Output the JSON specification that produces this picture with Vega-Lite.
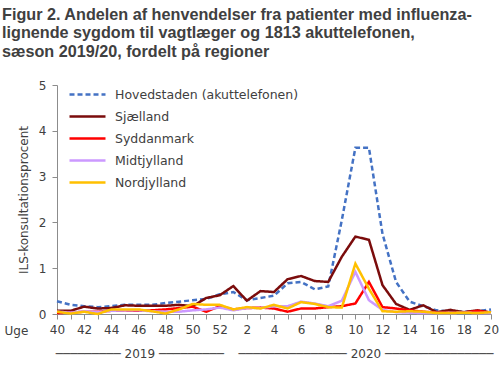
{
  "$schema": "https://vega.github.io/schema/vega-lite/v6.json",
  "width": 434,
  "height": 229,
  "autosize": {"type": "none"},
  "padding": {"left": 57, "top": 85, "right": 9, "bottom": 52},
  "background": "white",
  "config": {
    "view": {"stroke": null},
    "font": "DejaVu Sans",
    "axis": {"grid": false, "domainColor": "#8c8c8c", "tickColor": "#8c8c8c", "labelColor": "#404040", "titleColor": "#404040", "labelFont": "DejaVu Sans", "labelFontSize": 12, "titleFont": "DejaVu Sans", "titleFontWeight": "normal", "titleFontSize": 12}
  },
  "title": {
    "text": ["Figur 2. Andelen af henvendelser fra patienter med influenza-", "lignende sygdom til vagtlæger og 1813 akuttelefonen,", "sæson 2019/20, fordelt på regioner"],
    "anchor": "start", "frame": "group", "dx": -55, "dy": -9, "offset": 10,
    "font": "Liberation Sans", "fontSize": 16.2, "fontWeight": "bold", "color": "#404040", "lineHeight": 18.5
  },
  "layer": [
    {
      "data": {"values": [
        {"region":"Hovedstaden (akuttelefonen)","i":0,"uge":40,"v":0.28},{"region":"Hovedstaden (akuttelefonen)","i":1,"uge":41,"v":0.2},{"region":"Hovedstaden (akuttelefonen)","i":2,"uge":42,"v":0.17},{"region":"Hovedstaden (akuttelefonen)","i":3,"uge":43,"v":0.15},{"region":"Hovedstaden (akuttelefonen)","i":4,"uge":44,"v":0.17},{"region":"Hovedstaden (akuttelefonen)","i":5,"uge":45,"v":0.2},{"region":"Hovedstaden (akuttelefonen)","i":6,"uge":46,"v":0.2},{"region":"Hovedstaden (akuttelefonen)","i":7,"uge":47,"v":0.2},{"region":"Hovedstaden (akuttelefonen)","i":8,"uge":48,"v":0.24},{"region":"Hovedstaden (akuttelefonen)","i":9,"uge":49,"v":0.27},{"region":"Hovedstaden (akuttelefonen)","i":10,"uge":50,"v":0.3},{"region":"Hovedstaden (akuttelefonen)","i":11,"uge":51,"v":0.33},{"region":"Hovedstaden (akuttelefonen)","i":12,"uge":52,"v":0.43},
        {"region":"Hovedstaden (akuttelefonen)","i":13,"uge":1,"v":0.48},{"region":"Hovedstaden (akuttelefonen)","i":14,"uge":2,"v":0.3},{"region":"Hovedstaden (akuttelefonen)","i":15,"uge":3,"v":0.35},{"region":"Hovedstaden (akuttelefonen)","i":16,"uge":4,"v":0.4},{"region":"Hovedstaden (akuttelefonen)","i":17,"uge":5,"v":0.67},{"region":"Hovedstaden (akuttelefonen)","i":18,"uge":6,"v":0.7},{"region":"Hovedstaden (akuttelefonen)","i":19,"uge":7,"v":0.54},{"region":"Hovedstaden (akuttelefonen)","i":20,"uge":8,"v":0.6},{"region":"Hovedstaden (akuttelefonen)","i":21,"uge":9,"v":2.05},{"region":"Hovedstaden (akuttelefonen)","i":22,"uge":10,"v":3.63},{"region":"Hovedstaden (akuttelefonen)","i":23,"uge":11,"v":3.63},{"region":"Hovedstaden (akuttelefonen)","i":24,"uge":12,"v":1.75},{"region":"Hovedstaden (akuttelefonen)","i":25,"uge":13,"v":0.7},{"region":"Hovedstaden (akuttelefonen)","i":26,"uge":14,"v":0.27},{"region":"Hovedstaden (akuttelefonen)","i":27,"uge":15,"v":0.17},{"region":"Hovedstaden (akuttelefonen)","i":28,"uge":16,"v":0.08},{"region":"Hovedstaden (akuttelefonen)","i":29,"uge":17,"v":0.05},{"region":"Hovedstaden (akuttelefonen)","i":30,"uge":18,"v":0.05},{"region":"Hovedstaden (akuttelefonen)","i":31,"uge":19,"v":0.06},{"region":"Hovedstaden (akuttelefonen)","i":32,"uge":20,"v":0.1},
        {"region":"Sjælland","i":0,"uge":40,"v":0.07},{"region":"Sjælland","i":1,"uge":41,"v":0.07},{"region":"Sjælland","i":2,"uge":42,"v":0.16},{"region":"Sjælland","i":3,"uge":43,"v":0.12},{"region":"Sjælland","i":4,"uge":44,"v":0.13},{"region":"Sjælland","i":5,"uge":45,"v":0.19},{"region":"Sjælland","i":6,"uge":46,"v":0.18},{"region":"Sjælland","i":7,"uge":47,"v":0.18},{"region":"Sjælland","i":8,"uge":48,"v":0.18},{"region":"Sjælland","i":9,"uge":49,"v":0.2},{"region":"Sjælland","i":10,"uge":50,"v":0.17},{"region":"Sjælland","i":11,"uge":51,"v":0.35},{"region":"Sjælland","i":12,"uge":52,"v":0.41},
        {"region":"Sjælland","i":13,"uge":1,"v":0.61},{"region":"Sjælland","i":14,"uge":2,"v":0.29},{"region":"Sjælland","i":15,"uge":3,"v":0.5},{"region":"Sjælland","i":16,"uge":4,"v":0.48},{"region":"Sjælland","i":17,"uge":5,"v":0.76},{"region":"Sjælland","i":18,"uge":6,"v":0.83},{"region":"Sjælland","i":19,"uge":7,"v":0.72},{"region":"Sjælland","i":20,"uge":8,"v":0.7},{"region":"Sjælland","i":21,"uge":9,"v":1.25},{"region":"Sjælland","i":22,"uge":10,"v":1.69},{"region":"Sjælland","i":23,"uge":11,"v":1.62},{"region":"Sjælland","i":24,"uge":12,"v":0.63},{"region":"Sjælland","i":25,"uge":13,"v":0.22},{"region":"Sjælland","i":26,"uge":14,"v":0.09},{"region":"Sjælland","i":27,"uge":15,"v":0.19},{"region":"Sjælland","i":28,"uge":16,"v":0.04},{"region":"Sjælland","i":29,"uge":17,"v":0.09},{"region":"Sjælland","i":30,"uge":18,"v":0.04},{"region":"Sjælland","i":31,"uge":19,"v":0.08},{"region":"Sjælland","i":32,"uge":20,"v":0.03},
        {"region":"Syddanmark","i":0,"uge":40,"v":0.02},{"region":"Syddanmark","i":1,"uge":41,"v":0.03},{"region":"Syddanmark","i":2,"uge":42,"v":0.05},{"region":"Syddanmark","i":3,"uge":43,"v":0.05},{"region":"Syddanmark","i":4,"uge":44,"v":0.07},{"region":"Syddanmark","i":5,"uge":45,"v":0.08},{"region":"Syddanmark","i":6,"uge":46,"v":0.07},{"region":"Syddanmark","i":7,"uge":47,"v":0.08},{"region":"Syddanmark","i":8,"uge":48,"v":0.1},{"region":"Syddanmark","i":9,"uge":49,"v":0.13},{"region":"Syddanmark","i":10,"uge":50,"v":0.16},{"region":"Syddanmark","i":11,"uge":51,"v":0.05},{"region":"Syddanmark","i":12,"uge":52,"v":0.17},
        {"region":"Syddanmark","i":13,"uge":1,"v":0.1},{"region":"Syddanmark","i":14,"uge":2,"v":0.13},{"region":"Syddanmark","i":15,"uge":3,"v":0.14},{"region":"Syddanmark","i":16,"uge":4,"v":0.12},{"region":"Syddanmark","i":17,"uge":5,"v":0.05},{"region":"Syddanmark","i":18,"uge":6,"v":0.12},{"region":"Syddanmark","i":19,"uge":7,"v":0.12},{"region":"Syddanmark","i":20,"uge":8,"v":0.15},{"region":"Syddanmark","i":21,"uge":9,"v":0.17},{"region":"Syddanmark","i":22,"uge":10,"v":0.23},{"region":"Syddanmark","i":23,"uge":11,"v":0.7},{"region":"Syddanmark","i":24,"uge":12,"v":0.15},{"region":"Syddanmark","i":25,"uge":13,"v":0.12},{"region":"Syddanmark","i":26,"uge":14,"v":0.08},{"region":"Syddanmark","i":27,"uge":15,"v":0.05},{"region":"Syddanmark","i":28,"uge":16,"v":0.03},{"region":"Syddanmark","i":29,"uge":17,"v":0.03},{"region":"Syddanmark","i":30,"uge":18,"v":0.03},{"region":"Syddanmark","i":31,"uge":19,"v":0.07},{"region":"Syddanmark","i":32,"uge":20,"v":0.03},
        {"region":"Midtjylland","i":0,"uge":40,"v":0.05},{"region":"Midtjylland","i":1,"uge":41,"v":0.03},{"region":"Midtjylland","i":2,"uge":42,"v":0.06},{"region":"Midtjylland","i":3,"uge":43,"v":0.04},{"region":"Midtjylland","i":4,"uge":44,"v":0.07},{"region":"Midtjylland","i":5,"uge":45,"v":0.08},{"region":"Midtjylland","i":6,"uge":46,"v":0.08},{"region":"Midtjylland","i":7,"uge":47,"v":0.06},{"region":"Midtjylland","i":8,"uge":48,"v":0.05},{"region":"Midtjylland","i":9,"uge":49,"v":0.05},{"region":"Midtjylland","i":10,"uge":50,"v":0.08},{"region":"Midtjylland","i":11,"uge":51,"v":0.1},{"region":"Midtjylland","i":12,"uge":52,"v":0.14},
        {"region":"Midtjylland","i":13,"uge":1,"v":0.08},{"region":"Midtjylland","i":14,"uge":2,"v":0.13},{"region":"Midtjylland","i":15,"uge":3,"v":0.13},{"region":"Midtjylland","i":16,"uge":4,"v":0.17},{"region":"Midtjylland","i":17,"uge":5,"v":0.17},{"region":"Midtjylland","i":18,"uge":6,"v":0.27},{"region":"Midtjylland","i":19,"uge":7,"v":0.23},{"region":"Midtjylland","i":20,"uge":8,"v":0.17},{"region":"Midtjylland","i":21,"uge":9,"v":0.29},{"region":"Midtjylland","i":22,"uge":10,"v":0.92},{"region":"Midtjylland","i":23,"uge":11,"v":0.3},{"region":"Midtjylland","i":24,"uge":12,"v":0.09},{"region":"Midtjylland","i":25,"uge":13,"v":0.04},{"region":"Midtjylland","i":26,"uge":14,"v":0.03},{"region":"Midtjylland","i":27,"uge":15,"v":0.02},{"region":"Midtjylland","i":28,"uge":16,"v":0.02},{"region":"Midtjylland","i":29,"uge":17,"v":0.02},{"region":"Midtjylland","i":30,"uge":18,"v":0.03},{"region":"Midtjylland","i":31,"uge":19,"v":0.02},{"region":"Midtjylland","i":32,"uge":20,"v":0.02},
        {"region":"Nordjylland","i":0,"uge":40,"v":0.05},{"region":"Nordjylland","i":1,"uge":41,"v":0.01},{"region":"Nordjylland","i":2,"uge":42,"v":0.05},{"region":"Nordjylland","i":3,"uge":43,"v":0.0},{"region":"Nordjylland","i":4,"uge":44,"v":0.1},{"region":"Nordjylland","i":5,"uge":45,"v":0.1},{"region":"Nordjylland","i":6,"uge":46,"v":0.1},{"region":"Nordjylland","i":7,"uge":47,"v":0.06},{"region":"Nordjylland","i":8,"uge":48,"v":0.01},{"region":"Nordjylland","i":9,"uge":49,"v":0.1},{"region":"Nordjylland","i":10,"uge":50,"v":0.22},{"region":"Nordjylland","i":11,"uge":51,"v":0.2},{"region":"Nordjylland","i":12,"uge":52,"v":0.2},
        {"region":"Nordjylland","i":13,"uge":1,"v":0.1},{"region":"Nordjylland","i":14,"uge":2,"v":0.15},{"region":"Nordjylland","i":15,"uge":3,"v":0.12},{"region":"Nordjylland","i":16,"uge":4,"v":0.2},{"region":"Nordjylland","i":17,"uge":5,"v":0.12},{"region":"Nordjylland","i":18,"uge":6,"v":0.26},{"region":"Nordjylland","i":19,"uge":7,"v":0.22},{"region":"Nordjylland","i":20,"uge":8,"v":0.15},{"region":"Nordjylland","i":21,"uge":9,"v":0.14},{"region":"Nordjylland","i":22,"uge":10,"v":1.1},{"region":"Nordjylland","i":23,"uge":11,"v":0.55},{"region":"Nordjylland","i":24,"uge":12,"v":0.06},{"region":"Nordjylland","i":25,"uge":13,"v":0.05},{"region":"Nordjylland","i":26,"uge":14,"v":0.06},{"region":"Nordjylland","i":27,"uge":15,"v":0.05},{"region":"Nordjylland","i":28,"uge":16,"v":0.02},{"region":"Nordjylland","i":29,"uge":17,"v":0.02},{"region":"Nordjylland","i":30,"uge":18,"v":0.03},{"region":"Nordjylland","i":31,"uge":19,"v":0.02},{"region":"Nordjylland","i":32,"uge":20,"v":0.04}
      ]},
      "mark": {"type": "line", "strokeWidth": 2.5},
      "encoding": {
        "x": {"field": "i", "type": "quantitative",
          "scale": {"domain": [0, 32], "nice": false, "zero": false},
          "axis": {"values": [0,1,2,3,4,5,6,7,8,9,10,11,12,13,14,15,16,17,18,19,20,21,22,23,24,25,26,27,28,29,30,31,32],
            "labelExpr": "datum.value % 2 == 0 ? (datum.value <= 12 ? '' + (datum.value + 40) : '' + (datum.value - 12)) : ''",
            "tickSize": 5, "labelPadding": 5, "labelFlush": false, "labelOverlap": false,
            "title": "Uge", "titleX": -53, "titleY": 11, "titleAlign": "left", "titleBaseline": "top", "titleAngle": 0}},
        "y": {"field": "v", "type": "quantitative",
          "scale": {"domain": [0, 5], "nice": false},
          "axis": {"values": [0,1,2,3,4,5], "title": "ILS-konsultationsprocent", "tickSize": 5, "labelPadding": 6, "titlePadding": 8}},
        "color": {"field": "region", "type": "nominal",
          "scale": {"domain": ["Hovedstaden (akuttelefonen)", "Sjælland", "Syddanmark", "Midtjylland", "Nordjylland"],
            "range": ["#4472C4", "#7B0C0C", "#FF0000", "#CC99FF", "#FFC000"]},
          "legend": {"title": null, "orient": "none", "legendX": 23, "legendY": 2, "padding": 0,
            "symbolType": "M-3,0H3", "symbolSize": 144, "symbolStrokeWidth": 2.5, "labelOffset": 20,
            "labelFont": "DejaVu Sans", "labelFontSize": 12.5, "labelColor": "#404040", "labelLimit": 400, "rowPadding": 8}},
        "strokeDash": {"field": "region", "type": "nominal",
          "scale": {"domain": ["Hovedstaden (akuttelefonen)", "Sjælland", "Syddanmark", "Midtjylland", "Nordjylland"],
            "range": [[5, 3], [1, 0], [1, 0], [1, 0], [1, 0]]},
          "legend": {"title": null}}
      }
    },
    {
      "data": {"values": [{"aar": "2019", "midt": 6.07}, {"aar": "2020", "midt": 22.74}]},
      "mark": {"type": "point", "opacity": 0},
      "encoding": {
        "x": {"field": "midt", "type": "quantitative",
          "axis": {"orient": "bottom", "values": [6.07, 22.74], "domain": false, "ticks": false, "tickSize": 0,
            "labelPadding": 39, "labelBaseline": "middle", "labelFlush": false, "labelOverlap": false, "labelLimit": 500, "title": null,
            "labelExpr": "datum.value < 12 ? '───────── 2019 ─────────' : '─────────────── 2020 ───────────────'"}}
      }
    }
  ],
  "resolve": {"axis": {"x": "independent"}}
}
